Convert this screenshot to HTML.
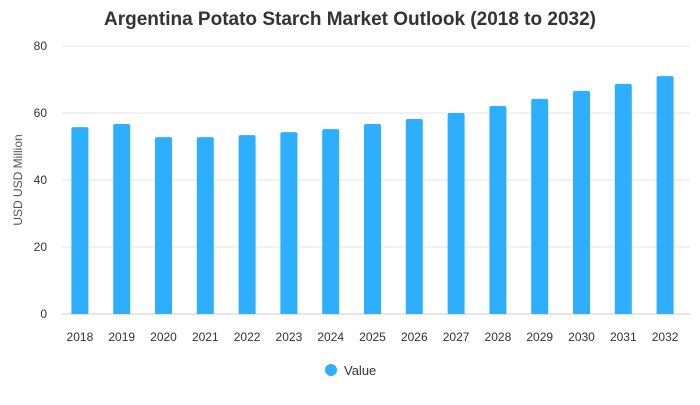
<!DOCTYPE html>
<html><head><meta charset="utf-8"><style>
body{margin:0;background:#fff;font-family:"Liberation Sans",sans-serif}
</style></head><body>
<svg id="chart" width="700" height="400">
<text x="350" y="25" text-anchor="middle" font-size="19" font-weight="bold" fill="#333">Argentina Potato Starch Market Outlook (2018 to 2032)</text>
<text transform="translate(22,180) rotate(-90)" text-anchor="middle" font-size="12" fill="#555">USD USD Million</text>
<g id="grid"></g><g id="bars"></g><g id="xlabels"></g>
<circle cx="331" cy="370" r="6" fill="#2eaeff"/>
<text x="344" y="375" font-size="13" fill="#333">Value</text>
</svg>
<script>
const categories=["2018","2019","2020","2021","2022","2023","2024","2025","2026","2027","2028","2029","2030","2031","2032"];
const values=[55.8,56.7,52.8,52.8,53.4,54.3,55.2,56.7,58.2,60,62.1,64.2,66.6,68.7,71];
const yTicks=[0,20,40,60,80];
const ns="http://www.w3.org/2000/svg";
const y0=314,yTop=46,yMax=80,x0=59,step=41.8,bw=17;
const y=v=>y0-(v/yMax)*(y0-yTop);
const xc=i=>x0+step*(i+0.5);
const grid=document.getElementById('grid');
yTicks.forEach(t=>{
 const l=document.createElementNS(ns,'line');
 l.setAttribute('x1',62);l.setAttribute('x2',690);l.setAttribute('y1',y(t));l.setAttribute('y2',y(t));
 l.setAttribute('stroke',t===0?'#ccc':'#e6e6e6');
 
 
 grid.appendChild(l);
 const tx=document.createElementNS(ns,'text');
 tx.setAttribute('x',47);tx.setAttribute('y',y(t)+4);tx.setAttribute('text-anchor','end');
 tx.setAttribute('font-size','12');tx.setAttribute('fill','#333');tx.textContent=t;
 
 
 grid.appendChild(tx);
});
const bars=document.getElementById('bars'),xl=document.getElementById('xlabels');
categories.forEach((c,i)=>{
 const r=document.createElementNS(ns,'path');
 const x=xc(i)-bw/2,t=y(values[i]),rr=2;
 r.setAttribute('d',`M${x},${y0}V${t+rr}Q${x},${t} ${x+rr},${t}H${x+bw-rr}Q${x+bw},${t} ${x+bw},${t+rr}V${y0}Z`);
 r.setAttribute('fill','#2eaeff');
 
 
 bars.appendChild(r);
 const tx=document.createElementNS(ns,'text');
 tx.setAttribute('x',xc(i));tx.setAttribute('y',341);tx.setAttribute('text-anchor','middle');
 tx.setAttribute('font-size','12');tx.setAttribute('fill','#333');tx.textContent=c;
 
 
 xl.appendChild(tx);
});
</script>
</body></html>
